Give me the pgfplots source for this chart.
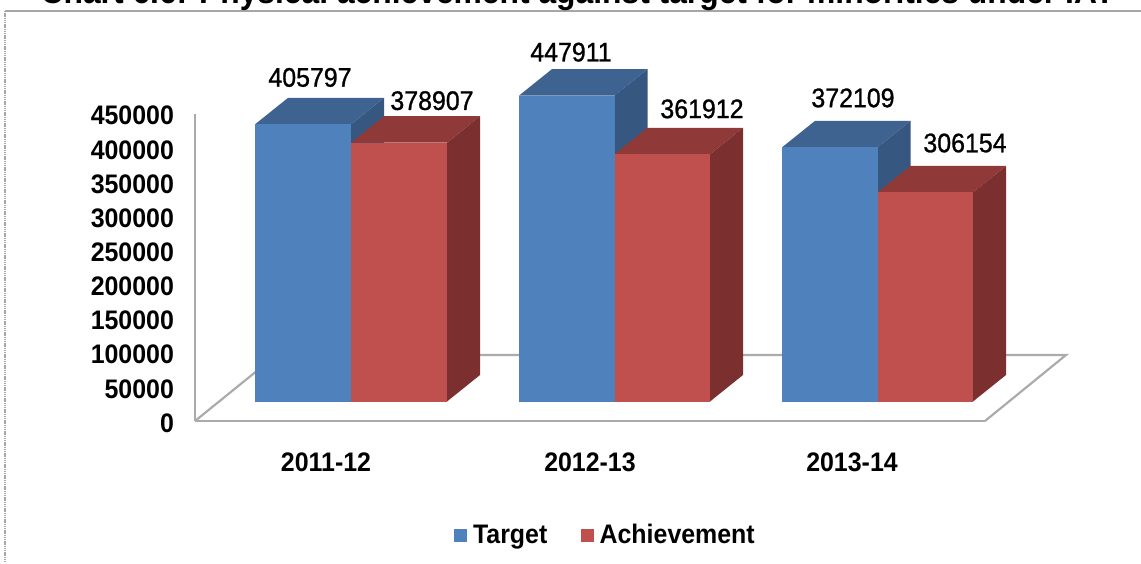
\documentclass[border=0pt]{standalone}
\usepackage{fontspec}
\setmainfont{Liberation Sans}[FakeStretch=0.93]
\newfontface\labelfont{Liberation Sans}[FakeStretch=0.93, FakeBold=1]
\usepackage{pgfplots}
\pgfplotsset{compat=1.18}

\definecolor{bluefront}{HTML}{4F81BD}
\definecolor{bluetop}{HTML}{3E6390}
\definecolor{blueside}{HTML}{36577F}
\definecolor{redfront}{HTML}{C0504D}
\definecolor{redtop}{HTML}{8F3A38}
\definecolor{redside}{HTML}{7B302F}
\definecolor{wallline}{HTML}{ABABAB}

% 1 px of the reference = 0.5pt; y unit: 0.000683 px per value
% bars stand 19.5 px above the floor's front edge, depth is 33 px right, 26.5 px up
\newcommand{\base}{28550}
\newcommand{\depth}{38800}

% #1 left x, #2 right x, #3 value, #4 front, #5 top, #6 side
\newcommand{\solidbar}[6]{
  \addplot[draw=none, fill=#5, forget plot] table[row sep=\\, x expr=#1+\thisrow{a}*(#2-#1)+\thisrow{k}*33, y expr=#3+\base+\thisrow{k}*\depth]
    {a k\\ 0 0\\ 1 0\\ 1 1\\ 0 1\\};
  \addplot[draw=none, fill=#6, forget plot] table[row sep=\\, x expr=#2+\thisrow{k}*33, y expr=\thisrow{u}*#3+\base+\thisrow{k}*\depth]
    {k u\\ 0 0\\ 1 0\\ 1 1\\ 0 1\\};
  \addplot[draw=none, fill=#4, forget plot] table[row sep=\\, x expr=#1+\thisrow{a}*(#2-#1), y expr=\thisrow{u}*#3+\base]
    {a u\\ 0 0\\ 1 0\\ 1 1\\ 0 1\\};
}

\begin{document}
\begin{tikzpicture}
\useasboundingbox (0,0) rectangle (570.5pt,281.5pt);
% frame of the pasted picture
\draw[gray!70, line width=0.9pt] (2.5pt,276pt) -- (570.5pt,276pt);
\draw[gray!70, line width=0.9pt, dash pattern=on 0.7pt off 0.4pt] (2.5pt,276pt) -- (2.5pt,0pt);
% title, cut by the top of the page
\node[anchor=base, font=\bfseries\fontsize{17.1}{17.1}\selectfont, inner sep=0pt] at (289pt,279.5pt)
  {Chart 6.6: Physical achievement against target for minorities under IAY};

\begin{axis}[
    at={(97.5pt,71pt)}, anchor=origin,
    scale only axis, width=395pt, height=153.675pt,
    xmin=195, xmax=985, ymin=0, ymax=450000,
    clip=false,
    axis lines=left,
    axis line style={draw=wallline, line width=1.1pt, -},
    major tick length=0pt,
    xtick={326,590,852},
    xticklabels={2011-12,2012-13,2013-14},
    ytick={0,50000,100000,150000,200000,250000,300000,350000,400000,450000},
    scaled y ticks=false,
    /pgf/number format/assume math mode=true,
    /pgf/number format/set thousands separator={},
    /pgf/number format/fixed,
    tick label style={font=\bfseries\fontsize{13.4}{13.4}\selectfont},
    xticklabel style={yshift=-12.5pt},
    yticklabel style={xshift=-7pt, yshift=-1pt},
    legend style={at={(axis cs:606.5,-167500)}, anchor=center, draw=none, fill=none,
      legend columns=2, inner sep=0pt,
      font=\bfseries\fontsize{13.4}{13.4}\selectfont,
      /tikz/every even column/.append style={column sep=14.75pt}},
    legend image code/.code={\fill[#1] (0pt,-3pt) rectangle (6pt,3pt); \path (7pt,0pt);},
]
\addlegendimage{bluefront}
\addlegendentry{Target}
\addlegendimage{redfront}
\addlegendentry{Achievement}

% floor
\draw[wallline, line width=1.1pt] (axis cs:195,0) -- (axis cs:276.5,96600) -- (axis cs:1066,96600) -- (axis cs:985,0);

\solidbar{255}{351}{405797}{bluefront}{bluetop}{blueside}
\solidbar{351}{447}{378907}{redfront}{redtop}{redside}
\solidbar{519}{614.5}{447911}{bluefront}{bluetop}{blueside}
\solidbar{614.5}{710}{361912}{redfront}{redtop}{redside}
\solidbar{782}{877.5}{372109}{bluefront}{bluetop}{blueside}
\solidbar{877.5}{973}{306154}{redfront}{redtop}{redside}

% value labels
\begin{scope}[every node/.style={font=\labelfont\fontsize{13.4}{13.4}\selectfont, inner sep=0pt}]
\node at (axis cs:310,503000) {405797};
\node at (axis cs:432,469000) {378907};
\node at (axis cs:571,540000) {447911};
\node at (axis cs:702,457000) {361912};
\node at (axis cs:853,473000) {372109};
\node at (axis cs:965,407000) {306154};
\end{scope}
\end{axis}
\end{tikzpicture}
\end{document}
